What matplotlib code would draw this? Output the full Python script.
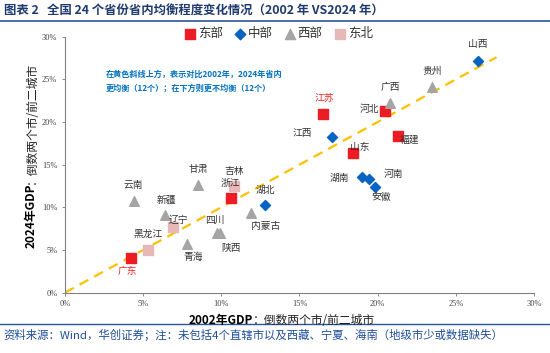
import matplotlib
matplotlib.use("Agg")
import matplotlib.pyplot as plt
from matplotlib.ticker import FuncFormatter

plt.rcParams['font.family'] = ['Noto Sans CJK SC', 'DejaVu Sans']

# data: (2002 share, 2024 share) in %
east_names = ['江苏', '河北', '福建', '山东', '浙江', '广东']
east_x = [16.5, 20.5, 21.3, 18.4, 10.6, 4.2]
east_y = [20.9, 21.3, 18.4, 16.4, 11.1, 4.1]

mid_names = ['山西', '江西', '湖南', '河南', '安徽', '湖北']
mid_x = [26.4, 17.1, 19.0, 19.45, 19.8, 12.8]
mid_y = [27.1, 18.2, 13.5, 13.3, 12.4, 10.3]

west_names = ['贵州', '广西', '甘肃', '云南', '新疆', '内蒙古', '四川', '陕西', '青海']
west_x = [23.5, 20.8, 8.5, 4.4, 6.4, 11.9, 9.7, 9.9, 7.8]
west_y = [24.1, 22.2, 12.6, 10.7, 9.1, 9.3, 7.0, 7.0, 5.7]

ne_names = ['吉林', '辽宁', '黑龙江']
ne_x = [10.8, 6.9, 5.3]
ne_y = [12.5, 7.7, 5.0]

ticks = [0, 5, 10, 15, 20, 25, 30]

# label offsets in pixels (dx right, dy up)
offsets = {
    '山西': (0, 17), '贵州': (0, 16), '广西': (0, 16), '河北': (-16, 2),
    '江苏': (1, 16), '江西': (-30, 4), '福建': (12, -4), '山东': (7, 6),
    '湖南': (-23, 0), '河南': (24, 5), '安徽': (7, -10), '甘肃': (0, 16),
    '吉林': (0, 15), '浙江': (0, 15), '湖北': (0, 15), '云南': (0, 16),
    '新疆': (1, 15), '内蒙古': (15, -13), '辽宁': (6, 7), '四川': (-2, 13),
    '陕西': (11, -15), '青海': (6, -13), '黑龙江': (0, 16), '广东': (-3, -13),
}
red_labels = ['江苏', '广东']

RED = '#ED1C24'
BLUE = '#0563C1'
GRAY = '#A5A5A5'
PINK = '#E6B8B7'

fig = plt.figure(figsize=(5.5, 3.53), dpi=100)
ax = fig.add_axes([0.118, 0.171, 0.853, 0.725])

# 45 degree reference line
ax.plot([0, 27.6], [0, 27.6], color='#FFC000', lw=1.6, dashes=(4.5, 3), zorder=1)

ax.scatter(east_x, east_y, marker='s', s=44, color=RED, label='东部', zorder=3)
ax.scatter(mid_x, mid_y, marker='D', s=26, color=BLUE, label='中部', zorder=3)
ax.scatter(west_x, west_y, marker='^', s=48, color=GRAY, label='西部', zorder=3)
ax.scatter(ne_x, ne_y, marker='s', s=44, color=PINK, label='东北', zorder=3)

for names, xs, ys in [(east_names, east_x, east_y), (mid_names, mid_x, mid_y),
                      (west_names, west_x, west_y), (ne_names, ne_x, ne_y)]:
    for n, x, y in zip(names, xs, ys):
        c = '#F02828' if n in red_labels else '#333333'
        ax.annotate(n, (x, y), xytext=offsets[n], textcoords='offset pixels',
                    ha='center', va='center', fontsize=7, color=c, zorder=4)

ax.set_xlim(0, 30)
ax.set_ylim(0, 30)
ax.set_xticks(ticks)
ax.set_yticks(ticks)
pct = FuncFormatter(lambda v, p: '%d%%' % v)
ax.xaxis.set_major_formatter(pct)
ax.yaxis.set_major_formatter(pct)
for lab in ax.get_xticklabels() + ax.get_yticklabels():
    lab.set_fontfamily('Liberation Serif')
    lab.set_fontsize(6)
    lab.set_color('#444444')
ax.tick_params(length=2.5, width=0.6, color='#777777', pad=3)
ax.spines['top'].set_visible(False)
ax.spines['right'].set_visible(False)
for s in ['left', 'bottom']:
    ax.spines[s].set_color('#808080')
    ax.spines[s].set_linewidth(0.8)

leg = ax.legend(loc='center', bbox_to_anchor=(0.455, 1.012), ncol=4, frameon=False,
                fontsize=9, handletextpad=0.1, columnspacing=0.9, markerscale=1.05,
                handlelength=1.0, borderpad=0.1)
for t in leg.get_texts():
    t.set_color('#333333')

fig.text(106 / 550, 1 - 74.5 / 353, '在黄色斜线上方，表示对比2002年，2024年省内',
         fontsize=5.85, color='#0070C0', fontweight='bold', va='center')
fig.text(106 / 550, 1 - 88 / 353, '更均衡（12个）；在下方则更不均衡（12个）',
         fontsize=5.85, color='#0070C0', fontweight='bold', va='center')

# axis titles
fig.text(253 / 550, 1 - 320.5 / 353, '2002年GDP', fontsize=8.5, fontweight='bold',
         ha='right', va='center', color='black')
fig.text(253 / 550, 1 - 320.5 / 353, '：倒数两个市/前二城市', fontsize=8.5,
         ha='left', va='center', color='#222222')
fig.text(31.5 / 550, 1 - 184 / 353, '2024年GDP', fontsize=8.5, fontweight='bold',
         ha='center', va='top', rotation=90, color='black')
fig.text(31.5 / 550, 1 - 184 / 353, '：倒数两个市/前二城市', fontsize=8.5,
         ha='center', va='bottom', rotation=90, color='#222222')

# header and footer
fig.text(4 / 550, 1 - 11 / 353, '图表 2   全国 24 个省份省内均衡程度变化情况（2002 年 VS2024 年）',
         fontsize=8.9, fontweight='bold', color='#1F3A6E', va='center')
fig.add_artist(plt.Line2D([0, 1], [1 - 21 / 353, 1 - 21 / 353], color='#2F5597', lw=1.2))
fig.add_artist(plt.Line2D([0, 1], [1 - 323.5 / 353, 1 - 323.5 / 353], color='#2F5597', lw=1.0))
fig.text(3 / 550, 1 - 334.5 / 353,
         '资料来源：Wind，华创证券；注：未包括4个直辖市以及西藏、宁夏、海南（地级市少或数据缺失）',
         fontsize=8.2, color='#1F4E9A', style='italic', va='center')

fig.savefig('out.png', dpi=100)
